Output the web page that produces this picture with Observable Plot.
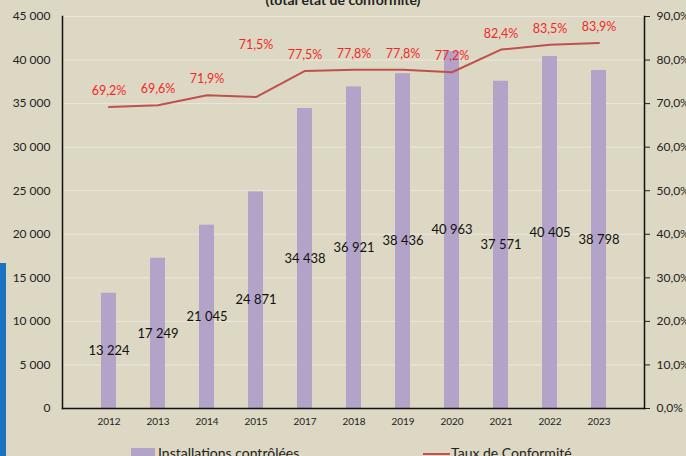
<!DOCTYPE html>
<html>
<head>
<meta charset="utf-8">
<script src="https://cdn.jsdelivr.net/npm/d3@7"></script>
<script src="https://cdn.jsdelivr.net/npm/@observablehq/plot@0.6"></script>
<style>
  html, body { margin: 0; padding: 0; background: #ddd8c4; overflow: hidden; }
  body { width: 686px; height: 456px; position: relative; font-family: Lato, "Open Sans", sans-serif; }
  #title { position: absolute; top: -9px; left: 0; width: 686px; text-align: center; font-weight: bold; font-size: 14px; color: #222; }
  #chart { position: absolute; top: 0; left: 0; }
  #legend { position: absolute; top: 444px; left: 0; width: 686px; font-size: 14px; color: #222; }
  .blue { position: absolute; left: 0; top: 263px; width: 6px; height: 200px; background: #1b72c0; border-bottom-left-radius: 14px; }
  .sw { position: absolute; }
</style>
</head>
<body>
<div class="blue"></div>
<div id="title">(total état de conformité)</div>
<div id="chart"></div>
<div id="legend">
  <span class="sw" style="left:131px;top:4px;width:24px;height:10px;background:#b3a3c9;"></span>
  <span class="sw" style="left:158px;top:0px;">Installations contrôlées</span>
  <span class="sw" style="left:423px;top:9px;width:27px;height:2px;background:#c0504d;"></span>
  <span class="sw" style="left:451px;top:0px;">Taux de Conformité</span>
</div>
<script>
const years = ["2012","2013","2014","2015","2017","2018","2019","2020","2021","2022","2023"];
const installations = [13224,17249,21045,24871,34438,36921,38436,40963,37571,40405,38798];
const conformity = [69.2,69.6,71.9,71.5,77.5,77.8,77.8,77.2,82.4,83.5,83.9];
const leftTicks = [0,5000,10000,15000,20000,25000,30000,35000,40000,45000];
const rightMax = 90; // percent at top of the right axis
const leftMax = 45000;

const data = years.map((y, i) => ({year: y, n: installations[i], rate: conformity[i]}));
const toLeft = r => r * leftMax / rightMax;

const loc = d3.formatLocale({decimal: ",", thousands: " ", grouping: [3]});
const fmtN = loc.format(",d");
const fmtP = loc.format(".1f");

// the 2015 label sits higher above its point in the original
const raised = data.filter(d => d.year === "2015");
const normal = data.filter(d => d.year !== "2015");
const rateLabel = (arr, dy) => Plot.text(arr, {x: "year", y: d => toLeft(d.rate), text: d => fmtP(d.rate) + "%",
  fill: "#f02828", fontSize: 12.5, dy});

const chart = Plot.plot({
  width: 686,
  height: 436,
  marginLeft: 62,
  marginRight: 42,
  marginTop: 16,
  marginBottom: 28,
  style: {background: "transparent", fontFamily: "Lato, 'Open Sans', sans-serif", color: "#222"},
  x: {domain: years, padding: 0.7},
  y: {domain: [0, leftMax]},
  marks: [
    Plot.gridY(leftTicks, {stroke: "#ebe7da", strokeOpacity: 1}),
    Plot.barY(data, {x: "year", y: "n", fill: "#b3a3c9"}),
    Plot.text(data, {x: "year", y: d => d.n / 2, text: d => fmtN(d.n), fontSize: 13, fill: "#111"}),
    Plot.line(data, {x: "year", y: d => toLeft(d.rate), stroke: "#c0504d", strokeWidth: 2}),
    rateLabel(normal, -16),
    rateLabel(raised, -52),
    Plot.axisY(leftTicks, {anchor: "left", tickSize: 0, tickPadding: 12, fontSize: 12, tickFormat: d => fmtN(d), label: null}),
    Plot.axisY(leftTicks, {anchor: "right", tickSize: 5, tickPadding: 7, fontSize: 12, tickFormat: d => fmtP(d * rightMax / leftMax) + "%", label: null}),
    Plot.axisX({tickSize: 0, tickPadding: 9, fontSize: 10, label: null, fill: "#222"}),
    Plot.frame({anchor: "left", stroke: "#111", strokeWidth: 1.5}),
    Plot.frame({anchor: "right", stroke: "#111", strokeWidth: 1.5}),
    Plot.frame({anchor: "bottom", stroke: "#111", strokeWidth: 1.5})
  ]
});
document.getElementById("chart").appendChild(chart);
</script>
</body>
</html>
